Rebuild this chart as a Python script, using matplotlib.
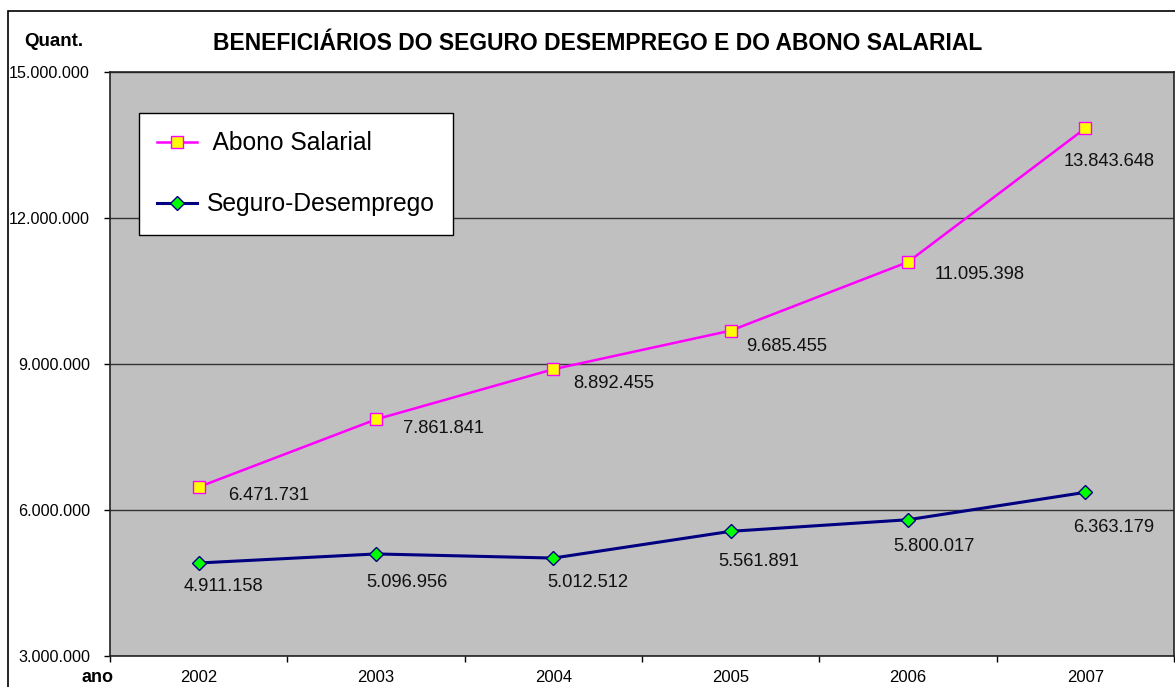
import matplotlib
matplotlib.use("Agg")
import matplotlib.pyplot as plt
from matplotlib.patches import Rectangle
from matplotlib.ticker import FuncFormatter

plt.rcParams["font.family"] = ["Liberation Sans", "DejaVu Sans"]

anos = ["2002", "2003", "2004", "2005", "2006", "2007"]
abono_salarial = [6471731, 7861841, 8892455, 9685455, 11095398, 13843648]
seguro_desemprego = [4911158, 5096956, 5012512, 5561891, 5800017, 6363179]

# label offsets in pixels (dx, dy) from each point
abono_offsets = [(70, -8), (67, -9), (60, -14), (56, -16), (72, -12), (24, -33)]
seguro_offsets = [(25, -24), (31, -29), (34, -24), (28, -30), (26, -27), (28, -35)]


def fmt_br(v):
    return f"{int(v):,}".replace(",", ".")


fig = plt.figure(figsize=(11.75, 6.87), dpi=100)
fig.patch.set_facecolor("white")
fig.patches.append(Rectangle((8 / 1175, -0.2), 1.2, 1.2 - 11 / 687,
                             transform=fig.transFigure, fill=False,
                             edgecolor="black", linewidth=1.2))

ax = fig.add_axes([110 / 1175, 31 / 687, 1064 / 1175, 584 / 687])
ax.set_facecolor("#C0C0C0")

x = [i + 0.5 for i in range(len(anos))]
ax.plot(x, abono_salarial, color="#FF00FF", linewidth=1.8, marker="s",
        markersize=8, markerfacecolor="#FFFF00", markeredgecolor="#FF00FF",
        markeredgewidth=1.0, label=" Abono Salarial", zorder=3)
ax.plot(x, seguro_desemprego, color="#000080", linewidth=2.2, marker="D",
        markersize=7.5, markerfacecolor="#00FF00", markeredgecolor="#000080",
        markeredgewidth=1.0, label="Seguro-Desemprego", zorder=3)

for xi, v, (dx, dy) in zip(x, abono_salarial, abono_offsets):
    ax.annotate(fmt_br(v), (xi, v), xytext=(dx, dy), textcoords="offset pixels",
                ha="center", va="center", fontsize=13.2, color="#111111")
for xi, v, (dx, dy) in zip(x, seguro_desemprego, seguro_offsets):
    ax.annotate(fmt_br(v), (xi, v), xytext=(dx, dy), textcoords="offset pixels",
                ha="center", va="center", fontsize=13.2, color="#111111")

ax.set_xlim(0, len(anos))
ax.set_ylim(3000000, 15000000)
ax.set_yticks([3000000, 6000000, 9000000, 12000000, 15000000])
ax.yaxis.set_major_formatter(FuncFormatter(lambda v, p: fmt_br(v)))
ax.set_xticks(range(len(anos) + 1))
ax.set_xticklabels([])
ax.set_xticks(x, minor=True)
ax.set_xticklabels(anos, minor=True)
ax.tick_params(axis="x", which="major", direction="out", length=4.5, width=1)
ax.tick_params(axis="x", which="minor", length=0, pad=10, labelsize=12)
ax.tick_params(axis="y", direction="out", length=4.5, width=1, labelsize=11.6, pad=9.9)
ax.grid(axis="y", color="#333333", linewidth=1.0)
ax.set_axisbelow(True)
for s in ax.spines.values():
    s.set_color("#222222")
    s.set_linewidth(1.2)

leg = ax.legend(loc="upper left", bbox_to_anchor=(29 / 1064, 1 - 41 / 584),
                borderaxespad=0, fontsize=17.7, frameon=True, fancybox=False,
                edgecolor="black", framealpha=1, handlelength=1.6,
                handletextpad=0.4, labelspacing=1.5, borderpad=0.75)
leg.get_frame().set_linewidth(1.0)

fig.text(598 / 1175, 1 - 44 / 687, "BENEFICIÁRIOS DO SEGURO DESEMPREGO E DO ABONO SALARIAL",
         ha="center", va="center", fontsize=16.5, fontweight="bold")
fig.text(54 / 1175, 1 - 42 / 687, "Quant.", ha="center", va="center",
         fontsize=13.5, fontweight="bold")
fig.text(97.5 / 1175, 1 - 677 / 687, "ano", ha="center", va="center",
         fontsize=13, fontweight="bold")

fig.savefig("out.png", dpi=100)
